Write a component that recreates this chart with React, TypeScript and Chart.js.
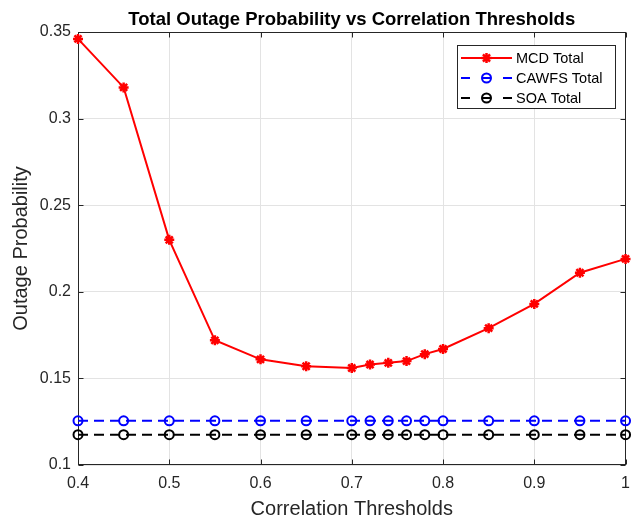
import React, { useEffect, useRef } from "react";
import { Chart, registerables } from "chart.js";
Chart.register(...registerables);

const thresholds = [0.4, 0.45, 0.5, 0.55, 0.6, 0.65, 0.7, 0.72, 0.74, 0.76, 0.78, 0.8, 0.85, 0.9, 0.95, 1.0];
const mcdTotal = [0.346, 0.318, 0.230, 0.172, 0.161, 0.157, 0.156, 0.158, 0.159, 0.160, 0.164, 0.167, 0.179, 0.193, 0.211, 0.219];
const cawfsTotal = [0.1255, 0.1255, 0.1255, 0.1255, 0.1255, 0.1255, 0.1255, 0.1255, 0.1255, 0.1255, 0.1255, 0.1255, 0.1255, 0.1255, 0.1255, 0.1255];
const soaTotal = [0.1175, 0.1175, 0.1175, 0.1175, 0.1175, 0.1175, 0.1175, 0.1175, 0.1175, 0.1175, 0.1175, 0.1175, 0.1175, 0.1175, 0.1175, 0.1175];
const seriesNames = ["MCD Total", "CAWFS Total", "SOA Total"];
const xTicks = [0.4, 0.5, 0.6, 0.7, 0.8, 0.9, 1];
const xTickLabels = ["0.4", "0.5", "0.6", "0.7", "0.8", "0.9", "1"];
const yTicks = [0.1, 0.15, 0.2, 0.25, 0.3, 0.35];
const yTickLabels = ["0.1", "0.15", "0.2", "0.25", "0.3", "0.35"];
const chartTitle = "Total Outage Probability vs Correlation Thresholds";
const xTitle = "Correlation Thresholds";
const yTitle = "Outage Probability";

const FONT = "'Liberation Sans', Arial, Helvetica, sans-serif";
const AXIS = "#262626";

function drawStar(ctx: CanvasRenderingContext2D, x: number, y: number, r: number) {
  ctx.beginPath();
  for (let i = 0; i < 4; i++) {
    const a = (i * Math.PI) / 4;
    ctx.moveTo(x - r * Math.cos(a), y - r * Math.sin(a));
    ctx.lineTo(x + r * Math.cos(a), y + r * Math.sin(a));
  }
  ctx.stroke();
}

const matlabPlugin = {
  id: "matlabDecor",
  beforeDatasetsDraw(chart: any) {
    const { ctx, chartArea, scales } = chart;
    const L = Math.round(chartArea.left) + 0.5;
    const R = Math.round(chartArea.right) - 0.5;
    const T = Math.round(chartArea.top) + 0.5;
    const B = Math.round(chartArea.bottom) - 0.5;
    ctx.save();
    ctx.strokeStyle = AXIS;
    ctx.lineWidth = 1;
    ctx.strokeRect(L, T, R - L, B - T);
    ctx.beginPath();
    xTicks.forEach((v) => {
      const px = Math.round(scales.x.getPixelForValue(v)) + 0.5;
      ctx.moveTo(px, B);
      ctx.lineTo(px, B - 5);
      ctx.moveTo(px, T);
      ctx.lineTo(px, T + 5);
    });
    yTicks.forEach((v) => {
      const py = Math.round(scales.y.getPixelForValue(v)) + 0.5;
      ctx.moveTo(L, py);
      ctx.lineTo(L + 5, py);
      ctx.moveTo(R, py);
      ctx.lineTo(R - 5, py);
    });
    ctx.stroke();
    ctx.restore();
  },
  afterDraw(chart: any) {
    const { ctx, chartArea } = chart;
    ctx.save();
    // title
    ctx.fillStyle = "#000000";
    ctx.font = `bold 18.5px ${FONT}`;
    ctx.textAlign = "center";
    ctx.textBaseline = "alphabetic";
    ctx.fillText(chartTitle, (chartArea.left + chartArea.right) / 2, 25);

    // legend
    const bx = 457.5, by = 45.5, bw = 158, bh = 63;
    ctx.fillStyle = "#ffffff";
    ctx.fillRect(bx, by, bw, bh);
    ctx.strokeStyle = AXIS;
    ctx.lineWidth = 1;
    ctx.strokeRect(bx, by, bw, bh);
    const rows = [58, 78, 98];
    const colors = ["#ff0000", "#0000ff", "#000000"];
    const x0 = 461, x1 = 512, xm = 486.5;
    rows.forEach((ry, i) => {
      ctx.strokeStyle = colors[i];
      ctx.lineWidth = 2;
      ctx.beginPath();
      if (i === 0) {
        ctx.moveTo(x0, ry);
        ctx.lineTo(x1, ry);
      } else {
        ctx.moveTo(x0, ry);
        ctx.lineTo(x0 + 9, ry);
        ctx.moveTo(x1 - 9, ry);
        ctx.lineTo(x1, ry);
      }
      ctx.stroke();
      if (i === 0) {
        ctx.lineWidth = 2.5;
        drawStar(ctx, xm, ry, 5);
      } else {
        ctx.lineWidth = 2;
        ctx.beginPath();
        ctx.arc(xm, ry, 4.5, 0, Math.PI * 2);
        ctx.stroke();
        ctx.beginPath();
        ctx.moveTo(xm - 4.5, ry);
        ctx.lineTo(xm + 4.5, ry);
        ctx.stroke();
      }
      ctx.fillStyle = "#000000";
      ctx.font = `14.5px ${FONT}`;
      ctx.textAlign = "left";
      ctx.textBaseline = "middle";
      ctx.fillText(seriesNames[i], 516, ry + 1);
    });
    ctx.restore();
  },
};

export default function App() {
  const canvasRef = useRef<HTMLCanvasElement | null>(null);

  useEffect(() => {
    if (!canvasRef.current) return;
    const mk = (vals: number[]) => thresholds.map((x, i) => ({ x, y: vals[i] }));
    const chart = new Chart(canvasRef.current, {
      type: "line",
      data: {
        datasets: [
          {
            label: seriesNames[0],
            data: mk(mcdTotal),
            borderColor: "#ff0000",
            backgroundColor: "#ff0000",
            borderWidth: 2,
            pointStyle: "star",
            pointRadius: 5,
            pointBorderWidth: 2.5,
            pointBorderColor: "#ff0000",
            tension: 0,
            clip: false,
          },
          {
            label: seriesNames[1],
            data: mk(cawfsTotal),
            borderColor: "#0000ff",
            backgroundColor: "rgba(0,0,0,0)",
            borderWidth: 2,
            borderDash: [10, 6],
            pointStyle: "circle",
            pointRadius: 4.5,
            pointBorderWidth: 2,
            pointBorderColor: "#0000ff",
            pointBackgroundColor: "rgba(0,0,0,0)",
            clip: false,
          },
          {
            label: seriesNames[2],
            data: mk(soaTotal),
            borderColor: "#000000",
            backgroundColor: "rgba(0,0,0,0)",
            borderWidth: 2,
            borderDash: [10, 6],
            pointStyle: "circle",
            pointRadius: 4.5,
            pointBorderWidth: 2,
            pointBorderColor: "#000000",
            pointBackgroundColor: "rgba(0,0,0,0)",
            clip: false,
          },
        ],
      },
      options: {
        responsive: false,
        animation: false,
        layout: { padding: { top: 32, right: 11, left: 0, bottom: 0 } },
        plugins: { legend: { display: false }, tooltip: { enabled: false }, title: { display: false } },
        scales: {
          x: {
            type: "linear",
            min: 0.4,
            max: 1,
            afterBuildTicks: (scale: any) => {
              scale.ticks = xTicks.map((v) => ({ value: v }));
            },
            afterFit: (scale: any) => {
              scale.height = 56;
            },
            ticks: {
              color: AXIS,
              font: { family: FONT, size: 16 },
              padding: 9,
              maxRotation: 0,
              autoSkip: false,
              callback: (v: any) => {
                const i = xTicks.findIndex((t) => Math.abs(t - Number(v)) < 1e-9);
                return i >= 0 ? xTickLabels[i] : "";
              },
            },
            grid: { color: "#e3e3e3", lineWidth: 1, drawTicks: false },
            border: { display: false },
            title: {
              display: true,
              text: xTitle,
              color: AXIS,
              font: { family: FONT, size: 20 },
              padding: { top: 0, bottom: 0 },
            },
          },
          y: {
            type: "linear",
            min: 0.1,
            max: 0.35,
            afterBuildTicks: (scale: any) => {
              scale.ticks = yTicks.map((v) => ({ value: v }));
            },
            afterFit: (scale: any) => {
              scale.width = 78;
            },
            ticks: {
              color: AXIS,
              font: { family: FONT, size: 16 },
              padding: 7,
              autoSkip: false,
              callback: (v: any) => {
                const i = yTicks.findIndex((t) => Math.abs(t - Number(v)) < 1e-9);
                return i >= 0 ? yTickLabels[i] : "";
              },
            },
            grid: { color: "#e3e3e3", lineWidth: 1, drawTicks: false },
            border: { display: false },
            title: {
              display: true,
              text: yTitle,
              color: AXIS,
              font: { family: FONT, size: 20 },
              padding: { top: 9, bottom: 0 },
            },
          },
        },
      },
      plugins: [matlabPlugin],
    });
    return () => chart.destroy();
  }, []);

  return (
    <div style={{ position: "fixed", left: 0, top: 0, width: 639, height: 521, background: "#ffffff" }}>
      <canvas ref={canvasRef} width={639} height={521} style={{ display: "block" }} />
    </div>
  );
}
